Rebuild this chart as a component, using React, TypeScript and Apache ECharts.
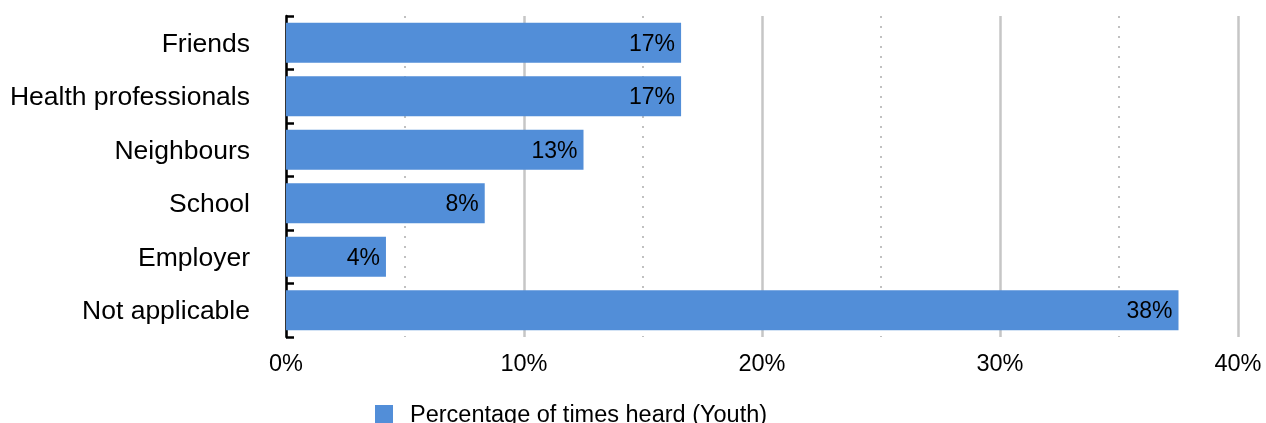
import React, { useEffect, useRef } from "react";
import * as echarts from "echarts";

const categories = [
  "Friends",
  "Health professionals",
  "Neighbours",
  "School",
  "Employer",
  "Not applicable",
];
const values = [16.6, 16.6, 12.5, 8.35, 4.2, 37.5];
const seriesName = "Percentage of times heard (Youth)";
const xTicks = [0, 10, 20, 30, 40];

const FONT = "Liberation Sans, Arial, sans-serif";

export default function App() {
  const ref = useRef<HTMLDivElement>(null);
  useEffect(() => {
    if (!ref.current) return;
    const chart = echarts.init(ref.current, undefined, { renderer: "svg" });
    chart.setOption({
      animation: false,
      textStyle: { fontFamily: FONT },
      grid: { left: 286, right: 28, top: 16, bottom: 86, containLabel: false },
      legend: {
        data: [seriesName],
        left: 375,
        top: 402,
        padding: 0,
        itemWidth: 18,
        itemHeight: 18,
        icon: "rect",
        textStyle: { fontSize: 23.5, color: "#000", fontFamily: FONT, padding: [0, 0, 0, 12] },
      },
      xAxis: {
        type: "value",
        min: xTicks[0],
        max: xTicks[xTicks.length - 1],
        interval: 10,
        axisLine: { show: false },
        axisTick: { show: false },
        axisLabel: {
          formatter: (v: number) => `${v}%`,
          fontSize: 23.5,
          color: "#000",
          margin: 14,
          fontFamily: FONT,
        },
        splitLine: { show: true, lineStyle: { color: "#c6c6c6", width: 2.5 } },
        minorTick: { show: false, splitNumber: 2 },
        minorSplitLine: {
          show: true,
          lineStyle: { color: "#c0c0c0", width: 2, type: [2, 8] },
        },
      },
      yAxis: {
        type: "category",
        data: categories,
        inverse: true,
        axisLine: { show: true, lineStyle: { color: "#000", width: 2.5 } },
        axisTick: { show: true, inside: true, length: 8, lineStyle: { color: "#000", width: 2.5 } },
        axisLabel: { fontSize: 26.5, color: "#000", margin: 36, fontFamily: FONT },
        splitLine: { show: false },
      },
      series: [
        {
          name: seriesName,
          type: "bar",
          data: values,
          barCategoryGap: "25%",
          itemStyle: { color: "#528ED8" },
          label: {
            show: true,
            position: "insideRight",
            distance: 6,
            formatter: (p: any) => `${Math.round(p.value)}%`,
            fontSize: 23,
            color: "#000",
            fontFamily: FONT,
          },
        },
      ],
    });
    return () => chart.dispose();
  }, []);
  return (
    <div
      ref={ref}
      style={{ position: "fixed", left: 0, top: 0, width: 1266, height: 423 }}
    />
  );
}
